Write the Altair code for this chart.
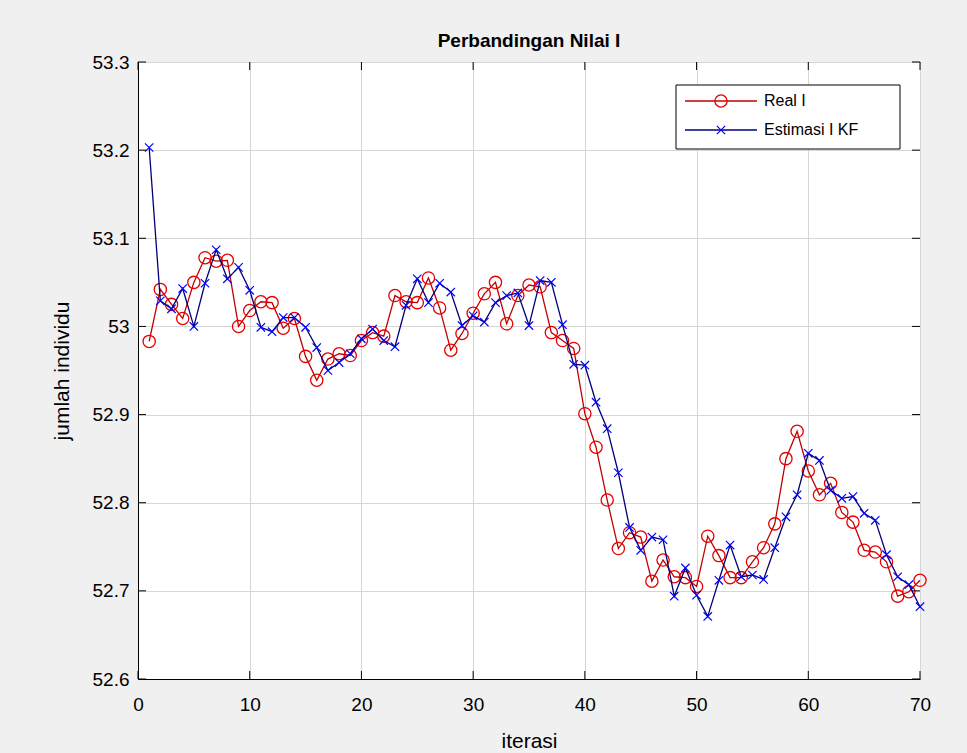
import altair as alt
import pandas as pd

# ---------------- data ----------------
iterasi = list(range(1, 71))

real_I = [
    52.983, 53.042, 53.025, 53.009, 53.050, 53.078, 53.074, 53.075, 53.000, 53.018,
    53.028, 53.027, 52.998, 53.009, 52.966, 52.939, 52.963, 52.969, 52.967, 52.984,
    52.993, 52.989, 53.035, 53.028, 53.027, 53.055, 53.021, 52.973, 52.992, 53.015,
    53.037, 53.050, 53.003, 53.035, 53.047, 53.045, 52.993, 52.984, 52.975, 52.901,
    52.863, 52.803, 52.748, 52.766, 52.761, 52.711, 52.735, 52.716, 52.715, 52.705,
    52.762, 52.740, 52.715, 52.715, 52.733, 52.749, 52.776, 52.850, 52.881, 52.836,
    52.809, 52.822, 52.789, 52.778, 52.746, 52.744, 52.733, 52.694, 52.699, 52.712,
]

estimasi_I_KF = [
    53.203, 53.029, 53.020, 53.043, 53.000, 53.049, 53.087, 53.054, 53.067, 53.041,
    52.999, 52.994, 53.010, 53.010, 52.999, 52.976, 52.950, 52.959, 52.969, 52.986,
    52.997, 52.984, 52.977, 53.024, 53.054, 53.027, 53.049, 53.039, 53.001, 53.012,
    53.005, 53.027, 53.035, 53.038, 53.001, 53.052, 53.050, 53.002, 52.957, 52.956,
    52.914, 52.884, 52.834, 52.772, 52.746, 52.761, 52.758, 52.694, 52.726, 52.695,
    52.671, 52.712, 52.752, 52.716, 52.718, 52.713, 52.749, 52.784, 52.809, 52.856,
    52.848, 52.814, 52.805, 52.807, 52.788, 52.780, 52.741, 52.716, 52.707, 52.682,
]

series_names = ["Real I", "Estimasi I KF"]
x_ticks = [0, 10, 20, 30, 40, 50, 60, 70]
y_ticks = [52.6, 52.7, 52.8, 52.9, 53.0, 53.1, 53.2, 53.3]

# ---------------- styling ----------------
W, H = 782, 617
FONT = "Liberation Sans"
RED_LINE, RED_MARK = "#c00000", "#e60000"
BLUE_LINE, BLUE_MARK = "#00007a", "#0000ff"
X_PATH = "M-1,-1L1,1M-1,1L1,-1"
GRID = "#d6d6d6"

real_df = pd.DataFrame({"iterasi": iterasi, "nilai": real_I})
est_df = pd.DataFrame({"iterasi": iterasi, "nilai": estimasi_I_KF})
xt_df = pd.DataFrame({"iterasi": x_ticks})
yt_df = pd.DataFrame({"nilai": y_ticks})
leg_df = pd.DataFrame({"seri": series_names})

xscale = alt.Scale(domain=[0, 70], nice=False, zero=False)
yscale = alt.Scale(domain=[52.6, 53.3], nice=False, zero=False)

x_axis = alt.Axis(
    values=x_ticks, grid=True, gridColor=GRID, gridWidth=1, ticks=False,
    labelFlush=False, labelOverlap=False,
    domainColor="black", labelFont=FONT, labelFontSize=19, labelColor="black",
    labelPadding=16, titleFont=FONT, titleFontSize=21,
    titleFontWeight="normal", titleColor="black", titleY=62, titleBaseline="middle",
)
y_axis = alt.Axis(
    values=y_ticks, grid=True, gridColor=GRID, gridWidth=1, ticks=False, format="~g",
    labelFlush=False, labelOverlap=False,
    domainColor="black", labelFont=FONT, labelFontSize=19, labelColor="black",
    labelPadding=9, titleFont=FONT, titleFontSize=21,
    titleFontWeight="normal", titleColor="black", titleX=-76, titleBaseline="middle",
)

X = alt.X("iterasi:Q", scale=xscale, axis=x_axis, title="iterasi")
Y = alt.Y("nilai:Q", scale=yscale, axis=y_axis, title="jumlah individu")

real_line = alt.Chart(real_df).mark_line(color=RED_LINE, strokeWidth=1.3).encode(x=X, y=Y)
real_pts = alt.Chart(real_df).mark_point(
    shape="circle", filled=False, color=RED_MARK, size=150, strokeWidth=1.3, opacity=1
).encode(x=X, y=Y)
est_line = alt.Chart(est_df).mark_line(color=BLUE_LINE, strokeWidth=1.3).encode(x=X, y=Y)
est_pts = alt.Chart(est_df).mark_point(
    shape=X_PATH, filled=False, color=BLUE_MARK, size=70, strokeWidth=1.2, opacity=1
).encode(x=X, y=Y)

# inward ticks on all four sides
TL = 8
xt_bot = alt.Chart(xt_df).mark_rule(color="black", strokeWidth=1).encode(
    x=X, y=alt.value(H), y2=alt.value(H - TL))
xt_top = alt.Chart(xt_df).mark_rule(color="black", strokeWidth=1).encode(
    x=X, y=alt.value(0), y2=alt.value(TL))
yt_left = alt.Chart(yt_df).mark_rule(color="black", strokeWidth=1).encode(
    y=Y, x=alt.value(0), x2=alt.value(TL))
yt_right = alt.Chart(yt_df).mark_rule(color="black", strokeWidth=1).encode(
    y=Y, x=alt.value(W), x2=alt.value(W - TL))

# legend box (top-right, inside the axes)
LX0, LX1, LY0, LY1 = 538, 762, 23, 87
ROW_Y = [39, 68]
leg_box = alt.Chart(leg_df).transform_filter(
    alt.datum.seri == series_names[0]
).mark_rect(fill="white", stroke="black", strokeWidth=1).encode(
    x=alt.value(LX0), x2=alt.value(LX1), y=alt.value(LY0), y2=alt.value(LY1))

leg_layers = [leg_box]
styles = [
    (RED_LINE, RED_MARK, "circle", 150, 1.3),
    (BLUE_LINE, BLUE_MARK, X_PATH, 70, 1.2),
]
for name, ry, (lc, mc, shp, sz, sw) in zip(series_names, ROW_Y, styles):
    base = alt.Chart(leg_df).transform_filter(alt.datum.seri == name)
    leg_layers.append(base.mark_rule(color=lc, strokeWidth=1.3).encode(
        x=alt.value(547), x2=alt.value(619), y=alt.value(ry)))
    leg_layers.append(base.mark_point(shape=shp, filled=False, color=mc, size=sz,
                                      strokeWidth=sw, opacity=1).encode(
        x=alt.value(583), y=alt.value(ry)))
    leg_layers.append(base.mark_text(align="left", baseline="middle", font=FONT,
                                     fontSize=16, color="black").encode(
        x=alt.value(626), y=alt.value(ry), text="seri:N"))

chart = alt.layer(
    real_line, real_pts, est_line, est_pts,
    xt_bot, xt_top, yt_left, yt_right,
    *leg_layers,
).properties(
    width=W, height=H,
    title=alt.TitleParams("Perbandingan Nilai I", font=FONT, fontSize=19,
                          fontWeight="bold", color="black", offset=2),
    autosize=alt.AutoSizeParams(type="none"),
    padding={"left": 138, "top": 62, "right": 47, "bottom": 74},
    background="#f0f0f0",
).configure_view(fill="white", stroke="black", strokeWidth=1)

chart.save("out.html", embed_options={"renderer": "svg", "actions": False})
